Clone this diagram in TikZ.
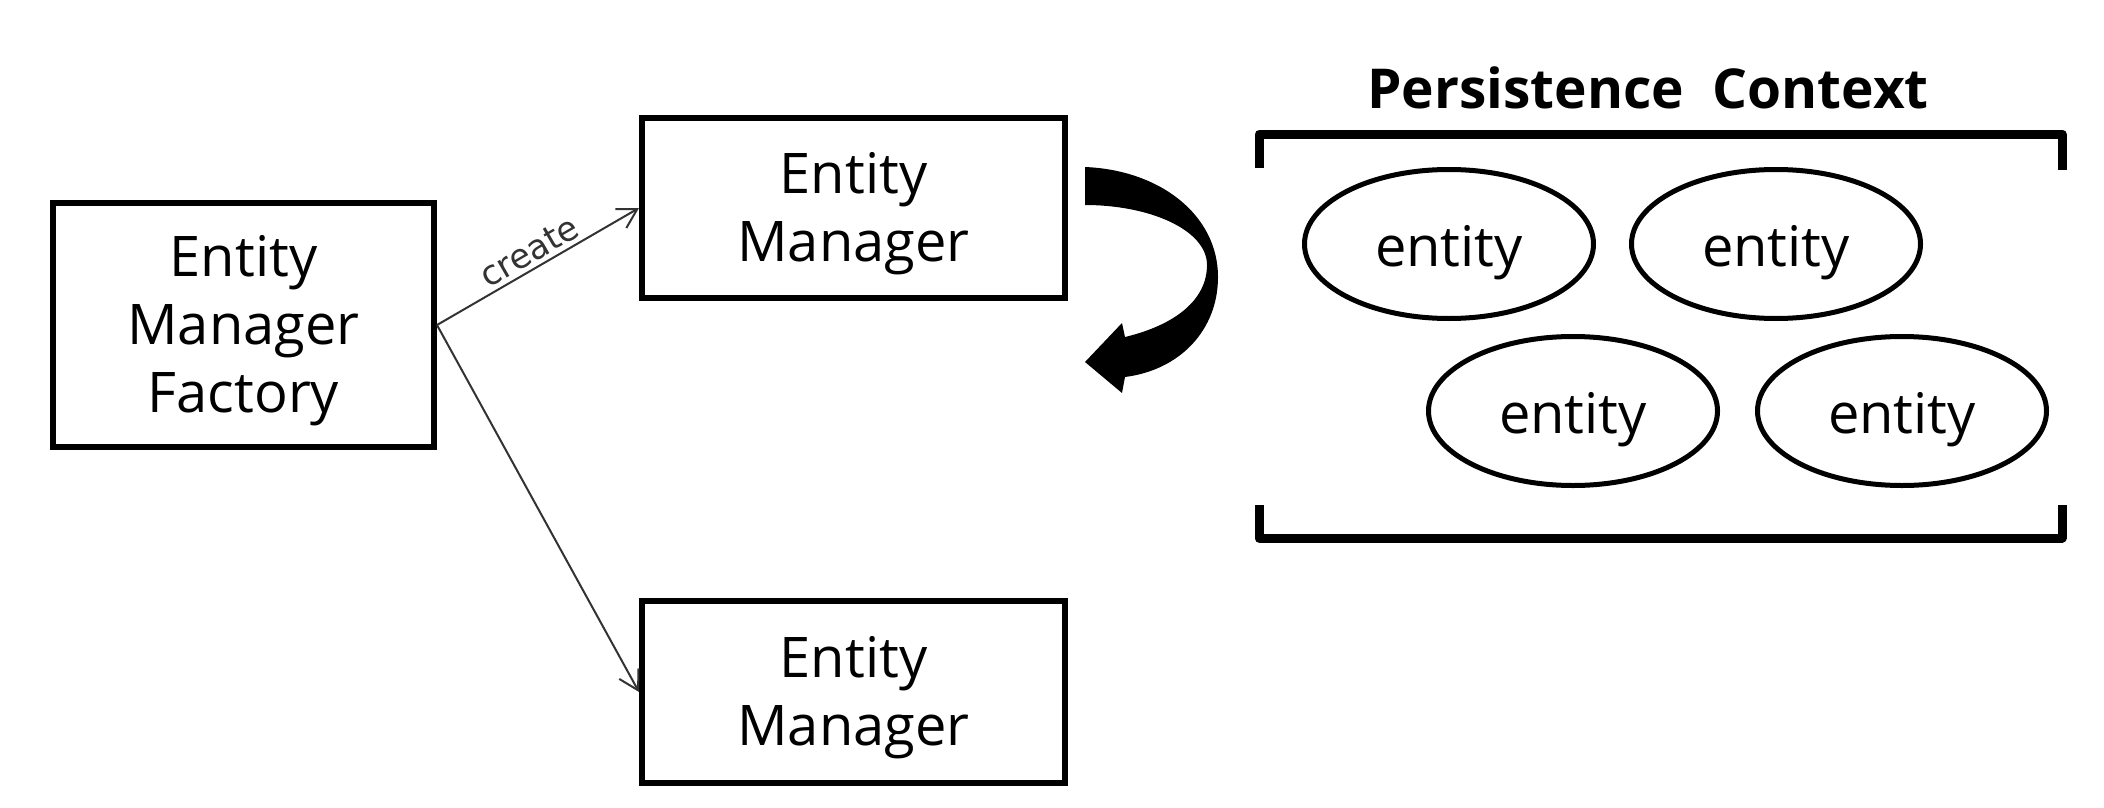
\documentclass[tikz,border=0pt]{standalone}
\usepackage{fontspec}
\setmainfont{Open Sans}
\newfontfamily\dejavu{DejaVu Sans}
\usetikzlibrary{arrows.meta,shapes.geometric}
\begin{document}
\begin{tikzpicture}[x=1pt,y=-1pt,
  box/.style={draw=black,line width=6pt,rectangle,inner sep=0pt},
  boxtext/.style={align=center,inner sep=0pt,yshift=-6pt,font=\fontsize{56}{68}\selectfont},
  ent/.style={draw=black,line width=5pt,ellipse,inner sep=0pt,
    minimum width=289pt,minimum height=149pt,text height=57pt,text depth=13pt,
    font=\fontsize{56}{68}\selectfont},
  conn/.style={draw=black!80,line width=2pt,-{Straight Barb[length=19pt,width=22pt,line width=2pt]}},
  brk/.style={line width=9pt,line join=round}]
\useasboundingbox[fill=white] (0,0) rectangle (2104,808);

\node[box,minimum width=381pt,minimum height=244pt,
  label={[boxtext,name=factxt]center:Entity\\Manager\\Factory}] (fac) at (243.5,325) {};
\node[box,minimum width=423pt,minimum height=180pt,
  label={[boxtext,name=em1txt]center:Entity\\Manager}] (em1) at (853.5,208) {};
\node[box,minimum width=423pt,minimum height=182pt,
  label={[boxtext,name=em2txt]center:Entity\\Manager}] (em2) at (853.5,692) {};

\draw[conn] (fac.east) -- node[midway,above,sloped,inner sep=4pt,text=black!80,
  font=\dejavu\fontsize{34}{40}\selectfont] (lbl) {create} (em1.west);
\draw[conn] (fac.east) -- (em2.west);

% curved thick arrow
\fill[black] (1085,167) .. controls (1160,170) and (1218,215) .. (1218,277)
  .. controls (1218,330) and (1180,370) .. (1125,377)
  -- (1122,393) -- (1085,362) -- (1122,323) -- (1125,337)
  .. controls (1175,325) and (1207,300) .. (1207,265)
  .. controls (1207,230) and (1150,205) .. (1085,205) -- cycle;

% persistence context
\node[anchor=base,inner sep=0pt,font=\bfseries\fontsize{55}{66}\selectfont] (pc) at (1648,108) {Persistence\ \ Context};
\draw[brk] (1259,168) -- (1259,134) -- (2062,134) -- (2062,170);
\draw[brk] (1259,505) -- (1259,538) -- (2062,538) -- (2062,505);

\node[ent] (e1) at (1449,244) {entity};
\node[ent] (e2) at (1776,244) {entity};
\node[ent] (e3) at (1573,411) {entity};
\node[ent] (e4) at (1902,411) {entity};
\end{tikzpicture}
\end{document}
